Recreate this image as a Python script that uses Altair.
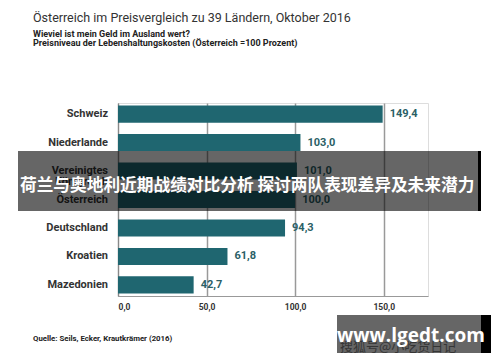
import altair as alt
import pandas as pd

lands = ["Schweiz", "Niederlande", "Vereinigtes Königreich", "Österreich", "Deutschland", "Kroatien", "Mazedonien"]
land_labels = ["Schweiz", "Niederlande", "Vereinigtes\nKönigreich", "Österreich", "Deutschland", "Kroatien", "Mazedonien"]
werte = [149.4, 103.0, 101.0, 100.0, 94.3, 61.8, 42.7]
ticks = [0, 50, 100, 150]

title = "Österreich im Preisvergleich zu 39 Ländern, Oktober 2016"
sub1 = "Wieviel ist mein Geld im Ausland wert?"
sub2 = "Preisniveau der Lebenshaltungskosten (Österreich =100 Prozent)"
source = "Quelle: Seils, Ecker, Krautkrämer (2016)"
banner = "荷兰与奥地利近期战绩对比分析 探讨两队表现差异及未来潜力"
wm1 = "www.lgedt.com"
wm2 = "搜狐号@小吃货日记"

FONT = "Roboto, Liberation Sans, sans-serif"
TEAL = "#1f6670"

df = pd.DataFrame({
    "land": lands,
    "lab": land_labels,
    "wert": werte,
    "txt": [f"{v:.1f}".replace(".", ",") for v in werte],
})

y_enc = alt.Y("land:N", sort=lands, title=None,
              scale=alt.Scale(paddingInner=0.4, paddingOuter=0.09),
              axis=alt.Axis(labels=False, ticks=False, domain=True, domainColor="#888", domainWidth=1))
x_enc = alt.X("wert:Q", title=None,
              scale=alt.Scale(domain=[0, 175], nice=False),
              axis=alt.Axis(values=ticks, grid=True, gridColor="#999", gridWidth=1.5,
                            domainColor="#999", domainWidth=1.2, ticks=False,
                            labelExpr="replace(format(datum.value, '.1f'), '.', ',')",
                            labelFont=FONT, labelFontWeight="bold", labelFontSize=8.5,
                            labelColor="#333", labelPadding=6))

bars = alt.Chart(df).mark_bar(color=TEAL).encode(x=x_enc, y=y_enc)
vals = alt.Chart(df).mark_text(align="left", baseline="middle", dx=7, font=FONT,
                               fontWeight="bold", fontSize=11, color="#2b5f66").encode(
    x="wert:Q", y=alt.Y("land:N", sort=lands), text="txt:N")
cats = alt.Chart(df).mark_text(align="right", baseline="middle", font=FONT, fontWeight="bold",
                               fontSize=11, color="#333", lineBreak="\n", lineHeight=11).encode(
    x=alt.value(-10), y=alt.Y("land:N", sort=lands), text="lab:N")

one = pd.DataFrame({"a": [1]})

def txt(s, x, y, size, weight="normal", color="#333", align="left", font=FONT, opacity=1):
    return alt.Chart(pd.DataFrame({"t": [s]})).mark_text(
        align=align, baseline="alphabetic", font=font, fontSize=size, fontWeight=weight,
        color=color, opacity=opacity).encode(x=alt.value(x), y=alt.value(y), text="t:N")

def box(x, x2, y, y2, color, opacity=1):
    return alt.Chart(one).mark_rect(color=color, opacity=opacity).encode(
        x=alt.value(x), x2=alt.value(x2), y=alt.value(y), y2=alt.value(y2))

CJK = "Noto Sans CJK SC"

layers = [
    bars, vals, cats,
    txt(title, -85, -81, 12.5, color="#333"),
    txt(sub1, -85, -66, 9, weight="bold", color="#222"),
    txt(sub2, -85, -57, 9, weight="bold", color="#222"),
    txt(source, -85, 238, 7.8, weight="bold", color="#222"),
    box(-100, 360, 48, 108, "#000", 0.6),
    box(360, 363, 48, 108, "#000", 1),
    txt(banner, -98, 88, 16.7, weight="bold", color="#ffffff", font=CJK),
    box(219, 363, 212, 250, "#000", 0.6),
    box(363, 373, 212, 250, "#000", 1),
    txt(wm2, 222, 248, 13, color="#2a2a2a", font=CJK, opacity=0.8),
    txt(wm1, 293, 239, 19, weight="bold", color="#ffffff", align="center", font="Open Sans"),
]

chart = alt.layer(*layers).properties(
    width=310, height=193,
    autosize=alt.AutoSizeParams(type="none"),
    padding={"left": 118, "top": 103, "right": 72, "bottom": 66},
).configure_view(stroke=None).configure(background="white")

chart.save("out.html", embed_options={"renderer": "svg", "actions": False})
